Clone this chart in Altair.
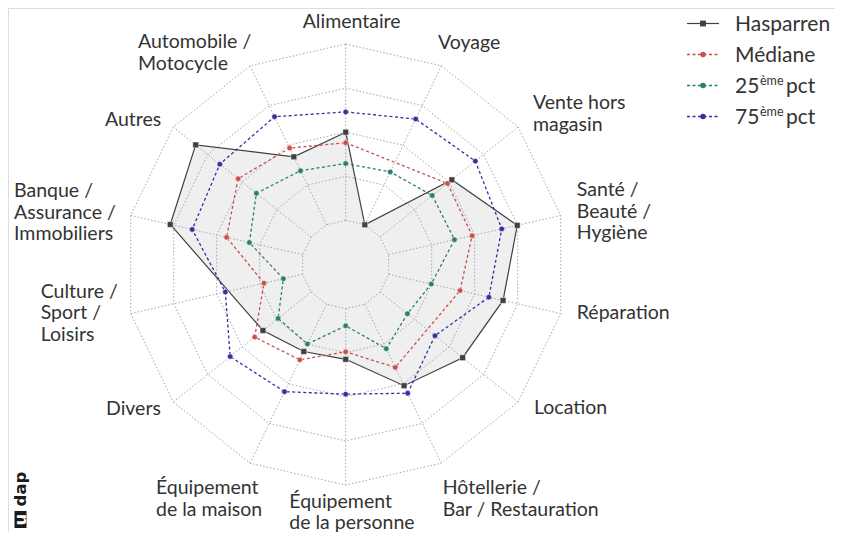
import math
import altair as alt
import pandas as pd

# ---------------- data ----------------
categories = [
    "Alimentaire", "Voyage", "Vente hors\nmagasin", "Santé /\nBeauté /\nHygiène",
    "Réparation", "Location", "Hôtellerie /\nBar / Restauration",
    "Équipement\nde la personne", "Équipement\nde la maison", "Divers",
    "Culture /\nSport /\nLoisirs", "Banque /\nAssurance /\nImmobiliers",
    "Autres", "Automobile /\nMotocycle",
]
series_names = ["Hasparren", "Médiane", "25ème pct", "75ème pct"]
# values in grid-ring units (0 = inner ring, 4 = outer ring); None = no value
hasparren = [2.00, 0.00, 2.08, 2.99, 2.66, 2.39, 2.05, 1.15, 1.19, 1.40, None, 3.08, 3.35, 1.71]
mediane = [1.76, None, 1.95, 1.94, 1.66, None, 1.59, 0.98, 1.40, 1.64, 0.90, 1.77, 2.12, 1.93]
pct25 = [1.29, 1.33, 1.51, 1.53, 0.99, 0.79, 1.12, 0.39, 1.00, 0.96, 0.45, 1.24, 1.59, 1.36]
pct75 = [2.46, 2.66, 2.76, 2.63, 2.33, 1.59, 2.24, 1.94, 2.20, 2.35, 1.80, 2.57, 2.65, 2.72]
ring_levels = [0, 1, 2, 3, 4]
logo_parts = ["u", "dap"]

# ---------------- layout ----------------
U = 44.1               # px per ring
W, H = 827, 524
CX, CY = 337.7, 256.5  # centre inside plot area (px)
N = len(categories)
X_DOM = [-CX / U, (W - CX) / U]
Y_DOM = [-(H - CY) / U, CY / U]
colors = ["#404040", "#c9504c", "#2a7d70", "#3a2d9c"]
FONT = "Lato"
LABEL_FS = 19.5
LH = 21.5
LABEL_R = 237 / U
label_nudge = [(-43, -5.5), (-10.5, -8), (2, -2.7), (0, 0), (0, -4.2), (3, -4.3),
               (-5.8, 21), (-56.4, 11), (-86.9, 21), (-54.4, -3.3), (-73.9, -4.2),
               (-100.6, 1.2), (-55.4, 3.3), (-104.9, 2)]

def px_x(page_x):
    return (page_x - 8 - CX) / U

def px_y(page_y):
    return (CY - (page_y - 8)) / U

xs = alt.Scale(domain=X_DOM, nice=False, zero=False)
ys = alt.Scale(domain=Y_DOM, nice=False, zero=False)
ANG = f"2*PI/{N}"

# ---------------- tables ----------------
rows = []
for name, vals in zip(series_names, [hasparren, mediane, pct25, pct75]):
    pts = [(i, v) for i, v in enumerate(vals) if v is not None]
    for o, (i, v) in enumerate(pts + [pts[0]]):
        rows.append(dict(series=name, idx=i, value=v, ord=o, first=o == len(pts)))
df = pd.DataFrame(rows)

ring_rows = []
for lv in ring_levels:
    for i in range(N + 1):
        ring_rows.append(dict(level=lv, idx=i % N, ord=i))
rings = pd.DataFrame(ring_rows)
spokes = pd.DataFrame(dict(idx=list(range(N)), r0=[1 + ring_levels[0]] * N, r1=[1 + ring_levels[-1]] * N))

# multi-line labels: Vega puts the first line at the anchor, so shift the block up by half its extra height
nlines = [c.count("\n") + 1 for c in categories]
lab = pd.DataFrame(dict(
    idx=list(range(N)), text=categories,
    nx=[n[0] / U for n in label_nudge],
    ny=[(-n[1] + (k - 1) * LH / 2) / U for n, k in zip(label_nudge, nlines)],
))

def polar(ch, rexpr="1+datum.value"):
    return (ch.transform_calculate(x=f"({rexpr})*sin(datum.idx*{ANG})")
              .transform_calculate(y=f"({rexpr})*cos(datum.idx*{ANG})"))

X = alt.X("x:Q", scale=xs, axis=None)
Y = alt.Y("y:Q", scale=ys, axis=None)
color = alt.Color("series:N", scale=alt.Scale(domain=series_names, range=colors), legend=None)

has = df[df.series == "Hasparren"]
others = df[df.series != "Hasparren"]

fill = polar(alt.Chart(has)).mark_line(filled=True, fill="#efefef", stroke=None, strokeWidth=0).encode(
    x=X, y=Y, order="ord:Q")

ring_layer = polar(alt.Chart(rings), "1+datum.level").mark_line(
    color="#a6a6a6", strokeWidth=1, strokeDash=[1.5, 2]).encode(
    x=X, y=Y, detail="level:N", order="ord:Q")

spoke_layer = (alt.Chart(spokes)
    .transform_calculate(x="datum.r0*sin(datum.idx*" + ANG + ")", y="datum.r0*cos(datum.idx*" + ANG + ")",
                         x2="datum.r1*sin(datum.idx*" + ANG + ")", y2="datum.r1*cos(datum.idx*" + ANG + ")")
    .mark_rule(color="#a6a6a6", strokeWidth=1, strokeDash=[1.5, 2])
    .encode(x=X, y=Y, x2="x2:Q", y2="y2:Q"))

has_line = polar(alt.Chart(has)).mark_line(color=colors[0], strokeWidth=1.2).encode(
    x=X, y=Y, order="ord:Q")
has_pts = polar(alt.Chart(has[~has["first"]])).mark_square(
    color=colors[0], size=34, opacity=1, stroke="white", strokeWidth=0.5).encode(x=X, y=Y)

oth_line = polar(alt.Chart(others)).mark_line(strokeWidth=1.3, strokeDash=[3, 2.5]).encode(
    x=X, y=Y, color=color, detail="series:N", order="ord:Q")
oth_pts = polar(alt.Chart(others[~others["first"]])).mark_circle(
    size=30, opacity=1, stroke="white", strokeWidth=0.5).encode(x=X, y=Y, color=color)

labels = (alt.Chart(lab)
    .transform_calculate(x=f"{LABEL_R}*sin(datum.idx*{ANG})+datum.nx",
                         y=f"{LABEL_R}*cos(datum.idx*{ANG})+datum.ny")
    .mark_text(align="left", baseline="middle", font=FONT, fontSize=LABEL_FS, color="#333333",
               lineBreak="\n", lineHeight=LH)
    .encode(x=X, y=Y, text="text:N"))

# ---------------- legend (drawn with marks) ----------------
parts = [s.split("ème") for s in series_names]
leg = pd.DataFrame(dict(
    series=series_names, k=list(range(len(series_names))),
    base=[p[0] for p in parts],
    sup=["ème" if len(p) > 1 else "" for p in parts],
    tail=[p[1].strip() if len(p) > 1 else "" for p in parts],
))
LY0, LDY = px_y(23.5), 31 / U
leg_base = alt.Chart(leg).transform_calculate(
    y=f"{LY0}-datum.k*{LDY}", x=f"{px_x(687)}", x2=f"{px_x(719)}", xm=f"{px_x(703)}",
    xt=f"{px_x(735)}", xs=f"{px_x(760)}", xp=f"{px_x(786)}")
leg_line_solid = leg_base.transform_filter("datum.k==0").mark_rule(strokeWidth=1.2).encode(
    x=X, x2="x2:Q", y=Y, color=color)
leg_line_dash = leg_base.transform_filter("datum.k>0").mark_rule(strokeWidth=1.3, strokeDash=[3, 2.5]).encode(
    x=X, x2="x2:Q", y=Y, color=color)
leg_sq = leg_base.transform_filter("datum.k==0").mark_square(size=34, opacity=1).encode(
    x=alt.X("xm:Q", scale=xs, axis=None), y=Y, color=color)
leg_dot = leg_base.transform_filter("datum.k>0").mark_circle(size=30, opacity=1).encode(
    x=alt.X("xm:Q", scale=xs, axis=None), y=Y, color=color)
leg_text = leg_base.mark_text(align="left", baseline="middle", font=FONT, fontSize=21,
                              color="#333333", dy=1).encode(
    x=alt.X("xt:Q", scale=xs, axis=None), y=Y, text="base:N")
leg_sup = leg_base.mark_text(align="left", baseline="middle", font=FONT, fontSize=12.5,
                             color="#333333", dy=-5).encode(
    x=alt.X("xs:Q", scale=xs, axis=None), y=Y, text="sup:N")
leg_tail = leg_base.mark_text(align="left", baseline="middle", font=FONT, fontSize=21,
                              color="#333333", dy=1).encode(
    x=alt.X("xp:Q", scale=xs, axis=None), y=Y, text="tail:N")

# ---------------- small rotated logo, bottom-left ----------------
logo = pd.DataFrame(dict(part=logo_parts, k=[0, 1]))
logo_base = alt.Chart(logo).transform_calculate(
    x=f"{px_x(20.5)}", y=f"datum.k==0 ? {px_y(519.5)} : {px_y(489)}",
    bx=f"{px_x(14.5)}", bx2=f"{px_x(26.5)}", by=f"{px_y(511)}", by2=f"{px_y(528)}")
logo_box = logo_base.transform_filter("datum.k==0").mark_rect(color="#1a1a1a").encode(
    x=alt.X("bx:Q", scale=xs, axis=None), x2="bx2:Q",
    y=alt.Y("by:Q", scale=ys, axis=None), y2="by2:Q")
logo_text = logo_base.mark_text(angle=270, align="center", baseline="middle", font="DejaVu Sans",
                                fontWeight="bold", fontSize=16.5).encode(
    x=X, y=Y, text="part:N",
    color=alt.Color("k:N", scale=alt.Scale(domain=[0, 1], range=["white", "#1a1a1a"]), legend=None))

chart = alt.layer(
    fill, ring_layer, spoke_layer, has_line, has_pts, oth_line, oth_pts, labels,
    leg_line_solid, leg_line_dash, leg_sq, leg_dot, leg_text, leg_sup, leg_tail,
    logo_box, logo_text,
).resolve_scale(color="independent").properties(
    width=W, height=H, padding=0, autosize=alt.AutoSizeParams(type="none"),
).configure_view(stroke=None).configure(background="white")

chart.save("out.html", embed_options={"renderer": "svg", "actions": False})
